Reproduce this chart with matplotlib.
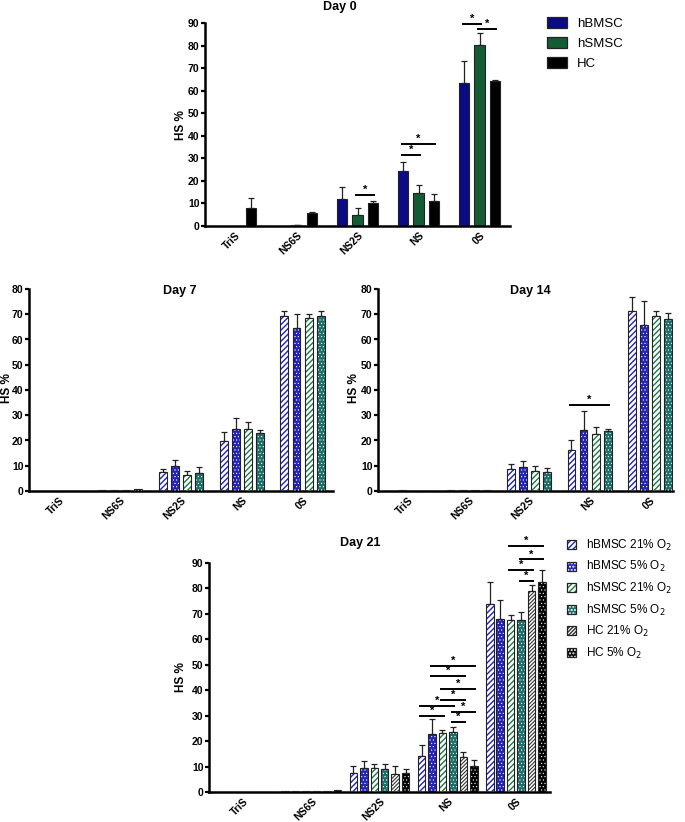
import numpy as np
import matplotlib
matplotlib.use('Agg')
from matplotlib import pyplot as plt
from matplotlib.patches import Patch
from matplotlib.legend_handler import HandlerTuple

plt.rcParams['font.family'] = ['Liberation Sans', 'DejaVu Sans']
plt.rcParams['hatch.linewidth'] = 1.0

categories = ['TriS', 'NS6S', 'NS2S', 'NS', '0S']

# Day 0 (three cell types)
day0_names = ['hBMSC', 'hSMSC', 'HC']
day0_vals = [
    [0, 0, 12.0, 24.3, 63.5],
    [0, 0.3, 5.0, 14.8, 80.2],
    [8.2, 5.7, 10.3, 11.3, 64.3],
]
day0_err = [
    [0, 0, 5.2, 4.2, 9.5],
    [0, 0.1, 3.0, 3.2, 5.3],
    [4.3, 0.6, 0.8, 2.8, 0.3],
]
# (category, bar i, bar j, height)
day0_sig = [(2, 1, 2, 13.8), (3, 0, 1, 31.4), (3, 0, 2, 36.3),
            (4, 0, 1, 89.7), (4, 1, 2, 87.2)]

# Day 7 and Day 14 (MSCs at two oxygen levels)
o2_names = ['hBMSC 21% O$_2$', 'hBMSC 5% O$_2$', 'hSMSC 21% O$_2$',
            'hSMSC 5% O$_2$', 'HC 21% O$_2$', 'HC 5% O$_2$']
day7_vals = [
    [0, 0.2, 7.5, 19.7, 69.2],
    [0, 0.4, 10.0, 24.5, 64.5],
    [0, 0.4, 6.5, 24.5, 68.5],
    [0, 0.6, 7.0, 23.0, 69.2],
]
day7_err = [
    [0, 0, 1.2, 3.6, 2.0],
    [0, 0, 2.2, 4.6, 5.5],
    [0, 0, 1.5, 2.9, 1.7],
    [0, 0, 2.5, 1.3, 2.1],
]
day14_vals = [
    [0, 0.2, 8.7, 16.3, 71.3],
    [0.2, 0.4, 9.5, 24.0, 65.7],
    [0, 0.4, 8.1, 22.5, 69.2],
    [0, 0.4, 7.6, 23.6, 68.3],
]
day14_err = [
    [0, 0, 2.1, 4.0, 5.4],
    [0, 0, 2.3, 7.7, 9.6],
    [0, 0, 1.9, 3.0, 2.0],
    [0, 0, 1.6, 1.0, 2.0],
]
day14_sig = [(3, 0, 3, 34.0)]

# Day 21 (all six groups)
day21_vals = [
    [0, 0.3, 7.6, 14.1, 73.9],
    [0, 0.4, 9.4, 22.7, 67.9],
    [0, 0.2, 9.4, 23.3, 67.7],
    [0, 0.4, 8.9, 23.5, 67.7],
    [0, 0.2, 6.9, 13.8, 78.9],
    [0, 0.8, 7.3, 10.1, 82.5],
]
day21_err = [
    [0, 0, 2.7, 4.5, 8.6],
    [0, 0, 2.8, 5.9, 7.7],
    [0, 0, 1.5, 0.9, 2.0],
    [0, 0, 2.2, 2.2, 2.9],
    [0, 0, 3.2, 2.1, 2.6],
    [0, 0, 1.9, 2.3, 4.6],
]
day21_sig = [(3, 0, 2, 29.9), (3, 0, 3, 33.8), (3, 2, 4, 36.3), (3, 2, 5, 40.6),
             (3, 1, 4, 45.5), (3, 1, 5, 49.4), (3, 3, 5, 31.4), (3, 3, 4, 27.5),
             (4, 2, 5, 96.7), (4, 3, 5, 91.4), (4, 2, 4, 87.4), (4, 3, 4, 83.1)]

# styles: (face, hatch colour, hatch, hatch linewidth)
solid_styles = [('#0b0b86', None, None, 0), ('#135c34', None, None, 0), ('#000000', None, None, 0)]
o2_styles = [('white', '#2323b8', '//////', 1.0), ('#2323b8', 'white', '.....', 0.4),
             ('white', '#1e7a48', '//////', 1.0), ('#1d6e68', 'white', '.....', 0.4),
             ('white', '#333333', '/////////', 0.8), ('black', 'white', '.....', 0.4)]

W, H = 685, 822
fig = plt.figure(figsize=(W / 100, H / 100), dpi=100)


def px_axes(x0, y0, x1, y1):
    return fig.add_axes([x0 / W, 1 - y1 / H, (x1 - x0) / W, (y1 - y0) / H])


def style_axes(ax, ymax, step, xmax=4.5):
    ax.set_xlim(-0.5, xmax)
    ax.set_ylim(0, ymax)
    ax.set_yticks(np.arange(0, ymax + 1, step))
    ax.set_xticks(range(len(categories)))
    ax.set_xticklabels(categories, rotation=45, ha='right', rotation_mode='anchor',
                       fontsize=7.5, fontweight='bold')
    for lab in ax.get_yticklabels():
        lab.set_fontsize(7.5)
        lab.set_fontweight('bold')
    for s in ['top', 'right']:
        ax.spines[s].set_visible(False)
    for s in ['left', 'bottom']:
        ax.spines[s].set_linewidth(1.8)
    ax.tick_params(axis='y', width=1.6, length=3, pad=1)
    ax.tick_params(axis='x', length=0, pad=3)


def draw_bars(ax, vals, errs, styles, step, width):
    n = len(vals)
    xs_all = []
    for i in range(n):
        xs = np.arange(len(categories)) + (i - (n - 1) / 2) * step
        xs_all.append(xs)
        face, hcol, hatch, hlw = styles[i]
        v = np.array(vals[i])
        ax.bar(xs, v, width, color=face, linewidth=0, zorder=2)
        if hatch:
            with plt.rc_context({'hatch.linewidth': hlw}):
                ax.bar(xs, v, width, facecolor='none', edgecolor=hcol, hatch=hatch,
                       linewidth=0, zorder=3)
        ax.bar(xs, v, width, facecolor='none', edgecolor='#222222', linewidth=0.8, zorder=4)
        e = np.array(errs[i])
        m = e > 0
        ax.errorbar(xs[m], v[m], yerr=[np.zeros(m.sum()), e[m]], fmt='none',
                    ecolor='#222222', elinewidth=0.9, capsize=2, capthick=0.9, zorder=1)
    return xs_all


def draw_sig(ax, xs_all, sig):
    for g, i, j, y in sig:
        x1, x2 = xs_all[i][g] - 0.02, xs_all[j][g] + 0.02
        ax.plot([x1, x2], [y, y], color='black', lw=1.4, clip_on=False, zorder=5)
        ax.text((x1 + x2) / 2, y, '*', ha='center', va='bottom', fontsize=8,
                fontweight='bold', clip_on=False)


def make_handles(styles):
    handles = []
    for face, hcol, hatch, hlw in styles:
        parts = [Patch(facecolor=face, edgecolor='none')]
        if hatch:
            with plt.rc_context({'hatch.linewidth': hlw}):
                parts.append(Patch(facecolor='none', edgecolor=hcol, hatch=hatch, linewidth=0))
        parts.append(Patch(facecolor='none', edgecolor='#222222', linewidth=0.9))
        handles.append(tuple(parts))
    return handles


# Day 0
ax0 = px_axes(205, 23, 510, 226)
style_axes(ax0, 90, 10)
xs0 = draw_bars(ax0, day0_vals, day0_err, solid_styles, 0.246, 0.164)
draw_sig(ax0, xs0, day0_sig)
fig.text(340 / W, 1 - 7 / H, 'Day 0', ha='center', va='center', fontsize=9, fontweight='bold')
fig.text(181 / W, 1 - 125 / H, 'HS %', ha='center', va='center', rotation=90,
         fontsize=8.5, fontweight='bold')
fig.legend(make_handles(solid_styles), day0_names,
           handler_map={tuple: HandlerTuple(ndivide=1, pad=0)},
           loc='upper left', bbox_to_anchor=(535 / W, 1 - 5 / H), frameon=False,
           fontsize=9.5, handlelength=1.5, handleheight=0.9, handletextpad=0.8,
           labelspacing=0.55)

# Day 7
ax7 = px_axes(29, 289, 333, 491)
style_axes(ax7, 80, 10)
draw_bars(ax7, day7_vals, day7_err, o2_styles[:4], 0.2, 0.13)
fig.text(180 / W, 1 - 291 / H, 'Day 7', ha='center', va='center', fontsize=9, fontweight='bold')
fig.text(7 / W, 1 - 388 / H, 'HS %', ha='center', va='center', rotation=90,
         fontsize=8.5, fontweight='bold')

# Day 14
ax14 = px_axes(378, 289, 673, 491)
style_axes(ax14, 80, 10, xmax=4.38)
xs14 = draw_bars(ax14, day14_vals, day14_err, o2_styles[:4], 0.2, 0.13)
draw_sig(ax14, xs14, day14_sig)
fig.text(530 / W, 1 - 291 / H, 'Day 14', ha='center', va='center', fontsize=9, fontweight='bold')
fig.text(354 / W, 1 - 388 / H, 'HS %', ha='center', va='center', rotation=90,
         fontsize=8.5, fontweight='bold')

# Day 21
ax21 = px_axes(209, 563, 550, 792)
style_axes(ax21, 90, 10)
xs21 = draw_bars(ax21, day21_vals, day21_err, o2_styles, 0.153, 0.11)
draw_sig(ax21, xs21, day21_sig)
fig.text(360 / W, 1 - 543 / H, 'Day 21', ha='center', va='center', fontsize=9, fontweight='bold')
fig.text(181 / W, 1 - 677 / H, 'HS %', ha='center', va='center', rotation=90,
         fontsize=8.5, fontweight='bold')
fig.legend(make_handles(o2_styles), o2_names,
           handler_map={tuple: HandlerTuple(ndivide=1, pad=0)},
           loc='upper left', bbox_to_anchor=(556 / W, 1 - 527 / H), frameon=False,
           fontsize=8.5, handlelength=0.8, handleheight=0.8, handletextpad=0.8,
           labelspacing=0.55)

fig.savefig('out.png', dpi=100)
